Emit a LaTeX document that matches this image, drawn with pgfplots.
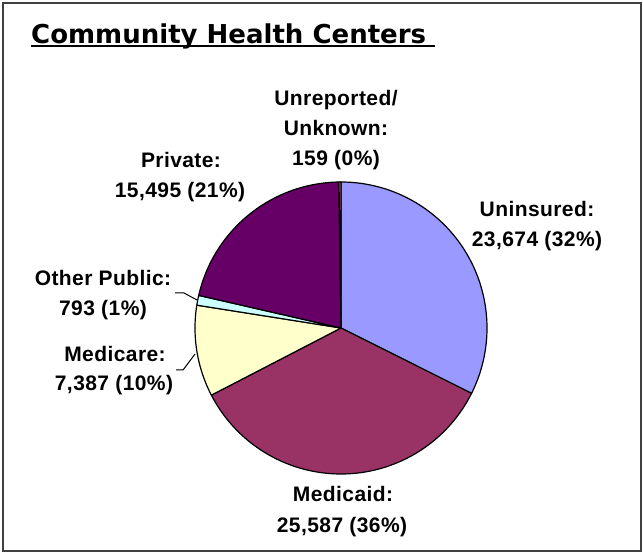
\documentclass[border=0pt]{standalone}
\usepackage{fontspec}
\usepackage{pgfplots}
\usepackage{pgfplotstable}
\pgfplotsset{compat=1.18}
\setmainfont{Liberation Sans}
\newfontfamily\titlefont{DejaVu Sans}
\newfontfamily\labfont[LetterSpace=2]{Liberation Sans}
\definecolor{cA}{HTML}{9999FF}
\definecolor{cB}{HTML}{993366}
\definecolor{cC}{HTML}{FFFFCC}
\definecolor{cD}{HTML}{CCFFFF}
\definecolor{cE}{HTML}{660066}
\definecolor{cF}{HTML}{FF8080}
\pgfplotstableread{
label value
Uninsured 23674
Medicaid 25587
Medicare 7387
OtherPublic 793
Private 15495
Unreported 159
}\piedata
\newcommand\getv[2]{\pgfplotstablegetelem{#1}{value}\of\piedata\edef#2{\pgfplotsretval}}
\begin{document}
\begin{tikzpicture}
\getv{0}\vA \getv{1}\vB \getv{2}\vC \getv{3}\vD \getv{4}\vE \getv{5}\vF
\edef\T{\fpeval{\vA+\vB+\vC+\vD+\vE+\vF}}
\edef\aA{90}
\edef\aB{\fpeval{\aA-360*\vA/\T}}
\edef\aC{\fpeval{\aB-360*\vB/\T}}
\edef\aD{\fpeval{\aC-360*\vC/\T}}
\edef\aE{\fpeval{\aD-360*\vD/\T}}
\edef\aF{\fpeval{\aE-360*\vE/\T}}
\edef\aG{\fpeval{\aF-360*\vF/\T}}
\begin{axis}[
  at={(0,0)}, anchor=south west,
  width=644bp, height=554bp, scale only axis,
  xmin=0, xmax=644, ymin=0, ymax=554,
  hide axis, clip=false,
]
\pgfplotsset{pie/.style={draw=black, line width=1.2bp, samples=120, variable=\t, line join=round}}
\addplot[pie, fill=cA, domain=\aB:\aA] ({341+146*cos(\t)},{226+146*sin(\t)}) -- (axis cs:341,226) -- cycle;
\addplot[pie, fill=cB, domain=\aC:\aB] ({341+146*cos(\t)},{226+146*sin(\t)}) -- (axis cs:341,226) -- cycle;
\addplot[pie, fill=cC, domain=\aD:\aC] ({341+146*cos(\t)},{226+146*sin(\t)}) -- (axis cs:341,226) -- cycle;
\addplot[pie, fill=cD, domain=\aE:\aD] ({341+146*cos(\t)},{226+146*sin(\t)}) -- (axis cs:341,226) -- cycle;
\addplot[pie, fill=cE, domain=\aF:\aE] ({341+146*cos(\t)},{226+146*sin(\t)}) -- (axis cs:341,226) -- cycle;
\addplot[pie, fill=cF, domain=\aG:\aF] ({341+146*cos(\t)},{226+146*sin(\t)}) -- (axis cs:341,226) -- cycle;
% leader lines
\addplot[black, line width=1bp] coordinates {(175,261) (184,261) (197,254)};
\addplot[black, line width=1bp] coordinates {(176,184) (183,184) (195,200)};
% labels
\tikzset{lab/.style={anchor=base, inner sep=0pt, font=\labfont\bfseries\fontsize{21bp}{25bp}\selectfont}}
\node[lab] at (axis cs:336,448) {Unreported/};
\node[lab] at (axis cs:336,418) {Unknown:};
\node[lab] at (axis cs:336,388) {159 (0\%)};
\node[lab] at (axis cs:181,386) {Private:};
\node[lab] at (axis cs:180,356) {15,495 (21\%)};
\node[lab] at (axis cs:537,337) {Uninsured:};
\node[lab] at (axis cs:537,307) {23,674 (32\%)};
\node[lab] at (axis cs:103,268.5) {Other Public:};
\node[lab] at (axis cs:103,238.5) {793 (1\%)};
\node[lab] at (axis cs:115,192) {Medicare:};
\node[lab] at (axis cs:114,163.5) {7,387 (10\%)};
\node[lab] at (axis cs:343,52) {Medicaid:};
\node[lab] at (axis cs:342,22) {25,587 (36\%)};
% title
\node[anchor=base west, inner sep=0pt, font=\titlefont\bfseries\fontsize{26bp}{30bp}\selectfont] at (axis cs:31,510) {Community Health Centers};
\draw[black, line width=2bp] (axis cs:31,508) -- (axis cs:435,508);
% border
\draw[black!75, line width=1.6bp] (axis cs:3,3) rectangle (axis cs:641,551);
\end{axis}
\pgfresetboundingbox
\path (0,0) rectangle (644bp,554bp);
\end{tikzpicture}
\end{document}
